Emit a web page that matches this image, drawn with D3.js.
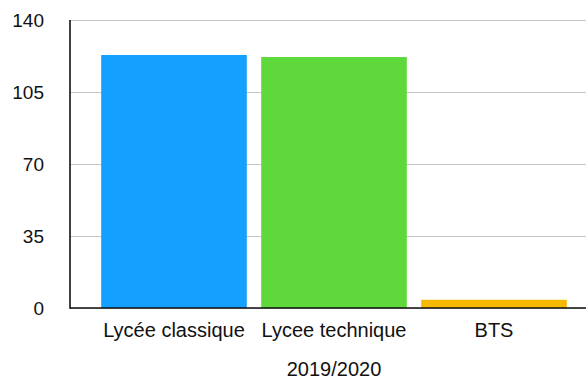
<!DOCTYPE html>
<html>
<head>
<meta charset="utf-8">
<script src="https://cdn.jsdelivr.net/npm/d3@7"></script>
<style>
  html, body { margin: 0; padding: 0; background: #fff; }
  svg { display: block; }
  text { font-family: Helvetica, "Liberation Sans", Arial, sans-serif; fill: #111; }
</style>
</head>
<body>
<svg id="chart" width="586" height="382"></svg>
<script>
// Enrolment by programme, 2019/2020
const categories = ["Lycée classique", "Lycee technique", "BTS"];
const values = [123, 122, 4];
const barColors = ["#14a0ff", "#5ed83a", "#f6b800"];
const yTicks = [0, 35, 70, 105, 140];
const xTitle = "2019/2020";

const W = 586, H = 382;
const plot = { left: 70, right: W, top: 20, bottom: 308 };

const svg = d3.select("#chart");

const y = d3.scaleLinear().domain([0, 140]).range([plot.bottom, plot.top]);
const x = d3.scaleBand()
  .domain(categories)
  .range([94, 574])
  .paddingInner(0.09)
  .paddingOuter(0.045);

// Horizontal gridlines and y tick labels
const yAxis = svg.append("g")
  .attr("transform", `translate(${plot.left},0)`)
  .call(d3.axisLeft(y)
    .tickValues(yTicks)
    .tickSize(-(plot.right - plot.left))
    .tickPadding(0)
    .tickFormat(d3.format("d")));
yAxis.select(".domain").remove();
yAxis.selectAll(".tick line")
  .attr("stroke", "#c4c4c4")
  .attr("stroke-width", 1.2);
yAxis.selectAll(".tick text")
  .attr("x", -26)
  .attr("dy", "0.36em")
  .style("font-size", "19px")
  .style("fill", "#111");

// Bars
svg.append("g").selectAll("rect")
  .data(values)
  .join("rect")
  .attr("x", (d, i) => x(categories[i]))
  .attr("y", d => y(d))
  .attr("width", x.bandwidth())
  .attr("height", d => y(0) - y(d))
  .attr("fill", (d, i) => barColors[i]);

// Axis lines
svg.append("line")
  .attr("x1", plot.left).attr("x2", plot.right)
  .attr("y1", y(0)).attr("y2", y(0))
  .attr("stroke", "#111").attr("stroke-width", 1.6);
svg.append("line")
  .attr("x1", plot.left).attr("x2", plot.left)
  .attr("y1", plot.top).attr("y2", y(0) + 0.8)
  .attr("stroke", "#111").attr("stroke-width", 1.6);

// Category labels
const xAxis = svg.append("g")
  .attr("transform", `translate(0,${plot.bottom})`)
  .call(d3.axisBottom(x).tickSize(0).tickPadding(0));
xAxis.select(".domain").remove();
xAxis.selectAll(".tick text")
  .attr("y", 29)
  .attr("dy", 0)
  .style("font-size", "20px")
  .style("fill", "#111");

// Axis title
svg.append("text")
  .attr("x", 334)
  .attr("y", 376)
  .attr("text-anchor", "middle")
  .style("font-size", "20px")
  .text(xTitle);
</script>
</body>
</html>
